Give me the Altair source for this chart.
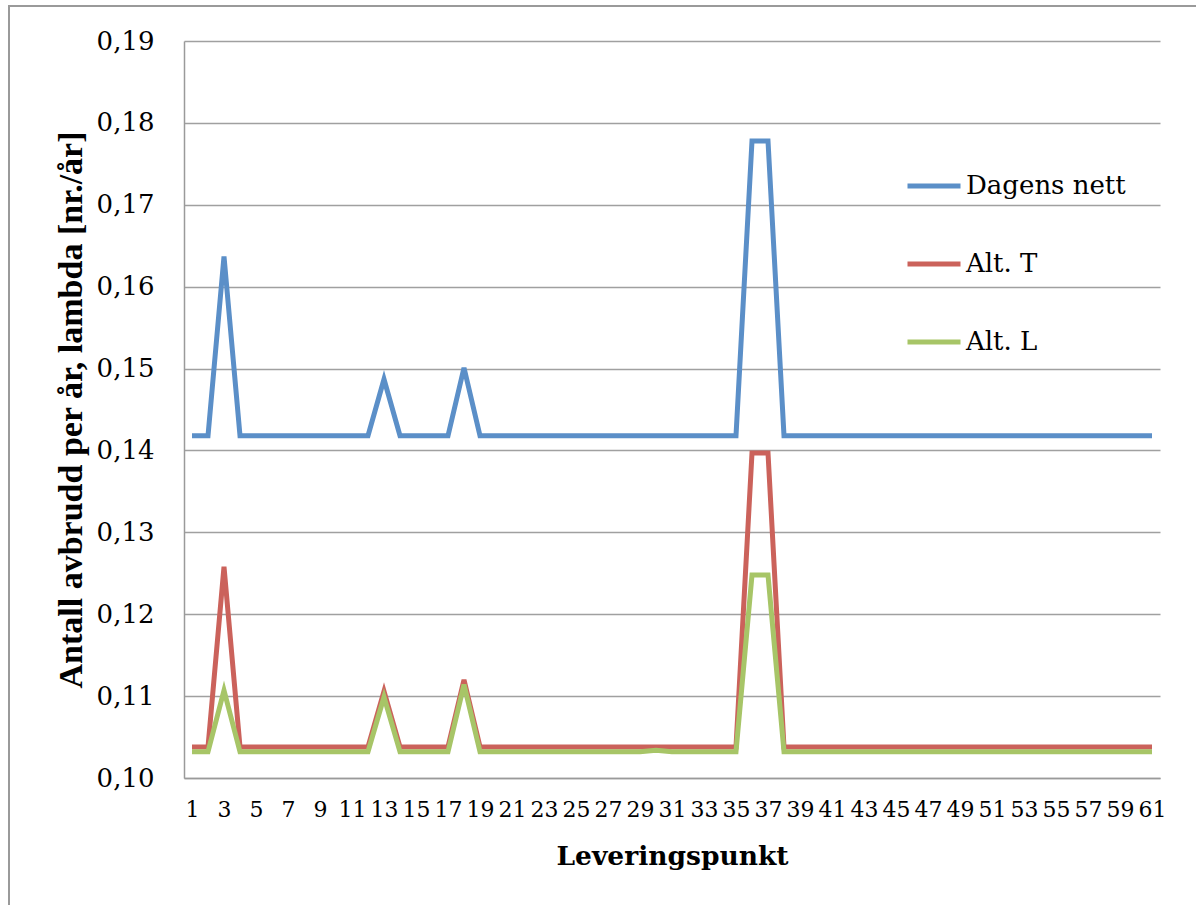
import altair as alt
import pandas as pd

points = list(range(1, 62))

dagens_nett = [
    0.1418, 0.1418, 0.1637, 0.1418, 0.1418, 0.1418, 0.1418, 0.1418, 0.1418, 0.1418,
    0.1418, 0.1418, 0.1487, 0.1418, 0.1418, 0.1418, 0.1418, 0.1501, 0.1418, 0.1418,
    0.1418, 0.1418, 0.1418, 0.1418, 0.1418, 0.1418, 0.1418, 0.1418, 0.1418, 0.1418,
    0.1418, 0.1418, 0.1418, 0.1418, 0.1418, 0.1778, 0.1778, 0.1418, 0.1418, 0.1418,
    0.1418, 0.1418, 0.1418, 0.1418, 0.1418, 0.1418, 0.1418, 0.1418, 0.1418, 0.1418,
    0.1418, 0.1418, 0.1418, 0.1418, 0.1418, 0.1418, 0.1418, 0.1418, 0.1418, 0.1418,
    0.1418,
]
alt_t = [
    0.1038, 0.1038, 0.1258, 0.1038, 0.1038, 0.1038, 0.1038, 0.1038, 0.1038, 0.1038,
    0.1038, 0.1038, 0.1106, 0.1038, 0.1038, 0.1038, 0.1038, 0.1120, 0.1038, 0.1038,
    0.1038, 0.1038, 0.1038, 0.1038, 0.1038, 0.1038, 0.1038, 0.1038, 0.1038, 0.1038,
    0.1038, 0.1038, 0.1038, 0.1038, 0.1038, 0.1397, 0.1397, 0.1038, 0.1038, 0.1038,
    0.1038, 0.1038, 0.1038, 0.1038, 0.1038, 0.1038, 0.1038, 0.1038, 0.1038, 0.1038,
    0.1038, 0.1038, 0.1038, 0.1038, 0.1038, 0.1038, 0.1038, 0.1038, 0.1038, 0.1038,
    0.1038,
]
alt_l = [
    0.1032, 0.1032, 0.1107, 0.1032, 0.1032, 0.1032, 0.1032, 0.1032, 0.1032, 0.1032,
    0.1032, 0.1032, 0.1099, 0.1032, 0.1032, 0.1032, 0.1032, 0.1114, 0.1032, 0.1032,
    0.1032, 0.1032, 0.1032, 0.1032, 0.1032, 0.1032, 0.1032, 0.1032, 0.1032, 0.1034,
    0.1032, 0.1032, 0.1032, 0.1032, 0.1032, 0.1248, 0.1248, 0.1032, 0.1032, 0.1032,
    0.1032, 0.1032, 0.1032, 0.1032, 0.1032, 0.1032, 0.1032, 0.1032, 0.1032, 0.1032,
    0.1032, 0.1032, 0.1032, 0.1032, 0.1032, 0.1032, 0.1032, 0.1032, 0.1032, 0.1032,
    0.1032,
]

series_names = ["Dagens nett", "Alt. T", "Alt. L"]
series_colors = ["#5B8FC8", "#CB625B", "#A7C567"]
x_tick_values = list(range(1, 62, 2))
y_tick_values = [0.10, 0.11, 0.12, 0.13, 0.14, 0.15, 0.16, 0.17, 0.18, 0.19]

rows = []
for name, vals in zip(series_names, [dagens_nett, alt_t, alt_l]):
    for p, v in zip(points, vals):
        rows.append({"punkt": p, "verdi": v, "serie": name})
df = pd.DataFrame(rows)

lines = alt.Chart(df).mark_line(strokeWidth=5, clip=False).encode(
    x=alt.X(
        "punkt:Q",
        scale=alt.Scale(domain=[0.5, 61.5], nice=False, zero=False),
        axis=alt.Axis(
            values=x_tick_values,
            grid=False,
            ticks=False,
            domain=True,
            domainColor="#9a9a9a",
            domainWidth=1.5,
            labelFont="DejaVu Serif",
            labelFontSize=22,
            labelColor="#000000",
            labelPadding=21,
            labelFlush=False,
            labelOverlap=False,
            title="Leveringspunkt",
            titleFont="DejaVu Serif",
            titleFontWeight="bold",
            titleFontSize=26.5,
            titleColor="#000000",
            titlePadding=23,
        ),
    ),
    y=alt.Y(
        "verdi:Q",
        scale=alt.Scale(domain=[0.10, 0.19], nice=False, zero=False),
        axis=alt.Axis(
            values=y_tick_values,
            grid=True,
            gridColor="#a0a0a0",
            gridWidth=1.5,
            ticks=False,
            domain=True,
            domainColor="#9a9a9a",
            domainWidth=1.5,
            labelFont="DejaVu Serif",
            labelFontSize=26,
            labelColor="#000000",
            labelPadding=30,
            labelExpr="replace(format(datum.value, '.2f'), '.', ',')",
            title="Antall avbrudd per år, lambda [nr./år]",
            titleFont="Liberation Serif",
            titleFontWeight="bold",
            titleFontSize=34,
            titleColor="#000000",
            titlePadding=8,
        ),
    ),
    color=alt.Color(
        "serie:N",
        scale=alt.Scale(domain=series_names, range=series_colors),
        legend=alt.Legend(
            title=None,
            orient="none",
            legendX=721,
            legendY=116,
            symbolType="stroke",
            symbolSize=2809,
            symbolStrokeWidth=5,
            labelFont="DejaVu Serif",
            labelFontSize=26,
            labelColor="#000000",
            labelOffset=3,
            rowPadding=36,
        ),
    ),
)

border = alt.Chart(pd.DataFrame({"a": [0]})).mark_rect(
    fill=None, stroke="#9a9a9a", strokeWidth=2, clip=False
).encode(
    x=alt.value(-175), x2=alt.value(1100), y=alt.value(-35), y2=alt.value(900)
)

chart = alt.layer(border, lines).properties(
    width=976,
    height=737,
    autosize=alt.AutoSizeParams(type="none"),
    padding={"left": 184, "top": 41, "right": 36, "bottom": 127},
    background="#ffffff",
).configure_view(stroke=None)

chart.save("out.html", embed_options={"renderer": "svg", "actions": False})
